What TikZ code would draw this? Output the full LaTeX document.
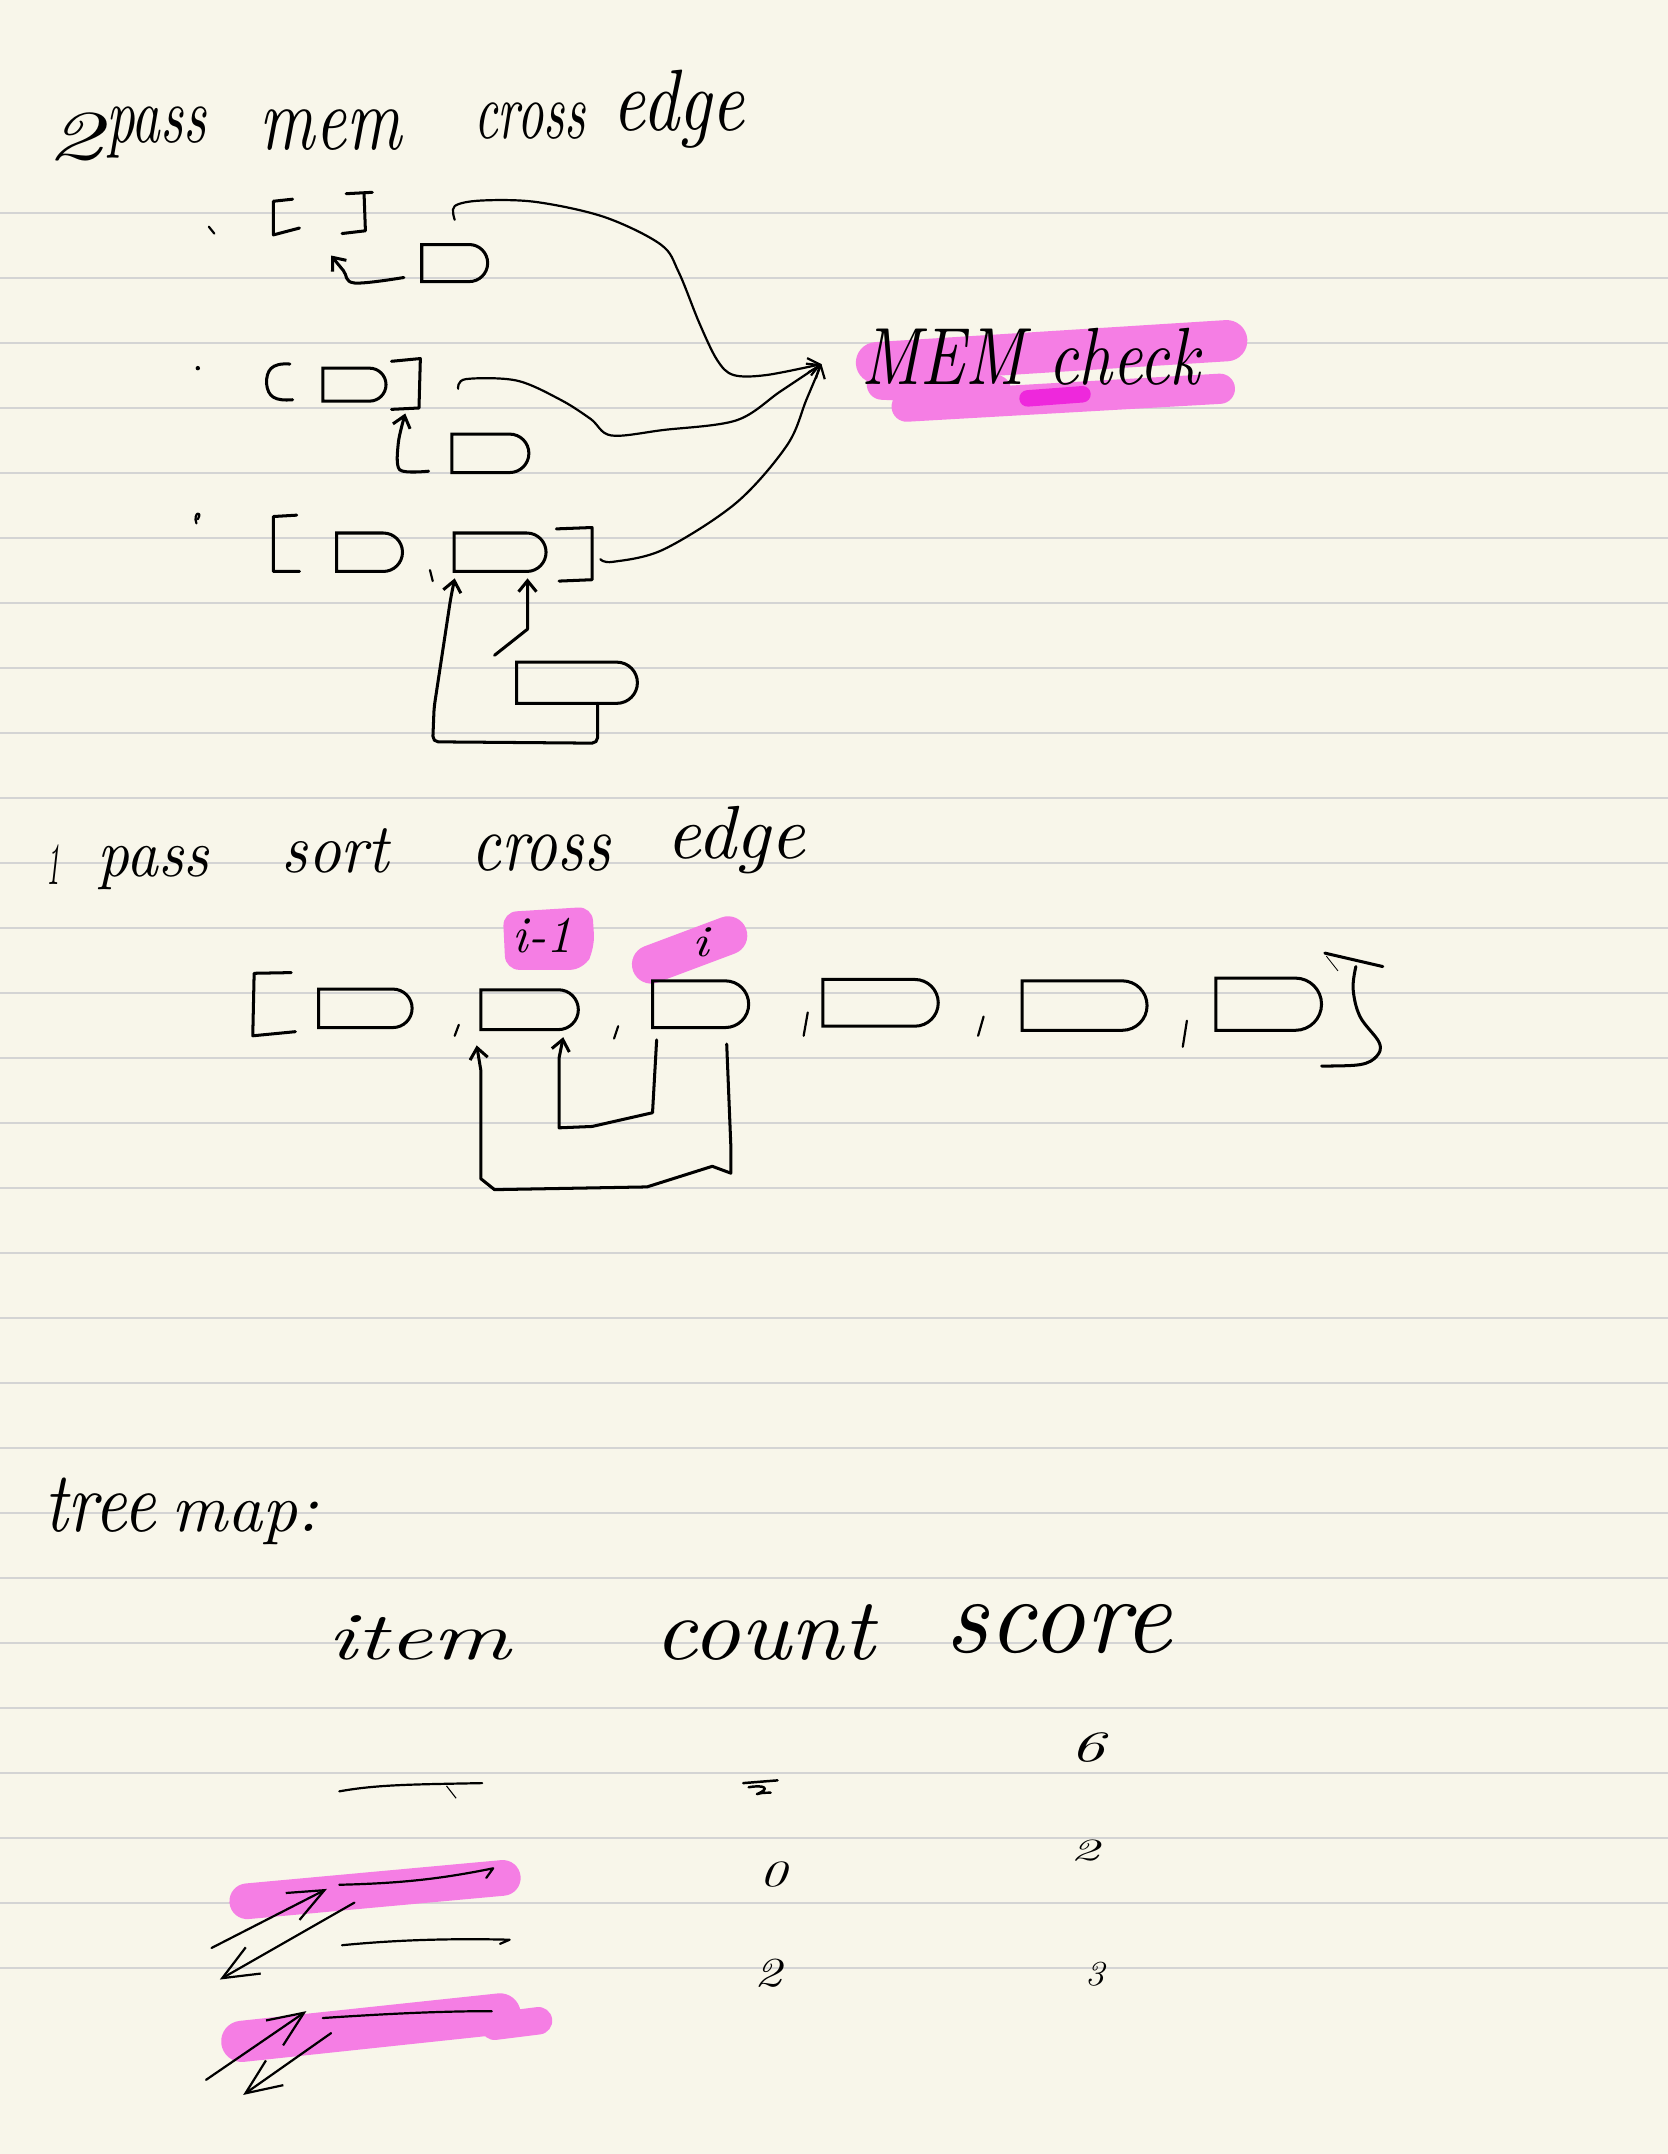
\documentclass[tikz,border=0pt]{standalone}
\usepackage{graphicx}
\usetikzlibrary{arrows.meta,shapes.misc,calc}
\definecolor{paper}{RGB}{248,246,234}
\definecolor{ruleline}{RGB}{212,212,212}
\definecolor{hl}{RGB}{245,126,228}
\definecolor{hldark}{RGB}{238,40,220}
\newcommand{\hw}[3]{\resizebox{#1pt}{#2pt}{\itshape #3}}
\tikzset{
  ink/.style={draw=black, line width=2.2pt, line cap=round, line join=round},
  thinink/.style={ink, line width=1.6pt},
  dbox/.style={rounded rectangle, rounded rectangle left arc=none, draw=black, line width=2.2pt, inner sep=0pt},
  txt/.style={anchor=base west, inner sep=0pt},
  barb/.style={-{Straight Barb[length=8pt,width=13pt]}},
  longbarb/.style={-{Straight Barb[length=26pt,width=22pt]}},
  hlstroke/.style={draw=hl, line cap=round, line join=round},
  rulestyle/.style={draw=ruleline, line width=1.4pt}
}
\begin{document}
\begin{tikzpicture}[x=1pt,y=-1pt]
\fill[paper] (0,0) rectangle (1214,1568);
\useasboundingbox (0,0) rectangle (1214,1568);
\foreach \k in {0,...,27} \draw[rulestyle] (0,{155+47.33*\k}) -- (1214,{155+47.33*\k});

% ---------- highlights ----------
\draw[hlstroke, line width=30pt] (638,264) -- (893,248);
\draw[hlstroke, line width=22pt] (660,296) -- (888,283);
\draw[hlstroke, line width=22pt] (642,280) -- (725,284);
\draw[draw=hldark, line width=12pt, line cap=round] (748,290) -- (788,287);
\fill[hl, rounded corners=10pt] (366,664) -- (431,660) -- (433,690) -- (425,706) -- (368,706) -- cycle;
\draw[hlstroke, line width=28pt] (474,702) -- (530,681);
\draw[hlstroke, line width=26pt] (180,1384) -- (366,1367);
\draw[hlstroke, line width=30pt] (176,1486) -- (364,1466);
\draw[hlstroke, line width=20pt] (360,1475) -- (392,1471);

% ---------- section 1 ----------
\node[txt] (t2) at (33.5,116) {\hw{41}{34}{2}};
\node[txt] (tpass) at (77,104) {\hw{73}{26}{pass}};
\node[txt] (tmem) at (189,109) {\hw{103}{29}{mem}};
\node[txt] (tcross) at (345,101) {\hw{81}{26}{cross}};
\node[txt] (tedge) at (446,95) {\hw{96}{44}{edge}};

\node[txt] (mem) at (627,280) {\hw{246}{41}{MEM check}};
\coordinate (memin) at (598,265);

% bullets
\draw[thinink] (152,165) -- (156,170);
\fill (144,268) circle (1.6);
\draw[thinink] (143,381) .. controls (140,373) and (148,371) .. (144,378);

% row 1
\draw[ink] (213,145) -- (199,146.5) -- (199,171) -- (218,166);
\draw[ink] (252,141) -- (271,140);
\draw[ink] (265,140.5) -- (266,168) -- (249,170);
\node[dbox, minimum width=48pt, minimum height=27pt] (r1b) at (331,191.5) {};
\coordinate (h1s) at (294,202);
\coordinate (h1t) at (241,186);
\draw[ink, barb] plot[smooth, tension=0.6] coordinates {(h1s) (258,206) (250,197) (h1t)};
\coordinate (c1s) at (331,160);
\draw[thinink, barb] plot[smooth, tension=0.55] coordinates {(c1s) (331,150) (350,146) (390,147) (440,158) (481,178) (494,198) (509,235) (522,262) (534,273) (558,273) (memin)};

% row 2
\draw[ink] (211,265) .. controls (197,264) and (194,270) .. (194,279) .. controls (195,289) and (200,292) .. (213,291);
\node[dbox, minimum width=46pt, minimum height=24pt] (r2a) at (258,280) {};
\draw[ink] (285,263) -- (306,261) -- (305,297) -- (285,298);
\node[dbox, minimum width=56pt, minimum height=28pt] (r2b) at (357,330) {};
\coordinate (u2s) at (312,343);
\coordinate (u2t) at (295,301);
\draw[ink, barb] plot[smooth, tension=0.5] coordinates {(u2s) (291,342) (290,322) (u2t)};
\coordinate (c2s) at (333.5,283);
\draw[thinink, barb] plot[smooth, tension=0.55] coordinates {(c2s) (339,276) (376,277) (408,291) (430,305) (445,317) (483,313) (536,306) (568,285) (memin)};

% row 3
\draw[ink] (216,375) -- (199,376) -- (199,416) -- (218,416);
\node[dbox, minimum width=48pt, minimum height=28pt] (r3a) at (269,402) {};
\draw[thinink] (313,415) -- (315,423);
\node[dbox, minimum width=67pt, minimum height=28pt] (r3b) at (364,402) {};
\draw[ink] (405,385) -- (431,384) -- (431,422) -- (407,423);
\coordinate (c3s) at (437,407);
\draw[thinink, barb] plot[smooth, tension=0.55] coordinates {(c3s) (446,409) (483,400) (536,366) (573,324) (587,291) (memin)};
\node[dbox, minimum width=88pt, minimum height=30pt] (r3c) at (420,497) {};
\coordinate (lp0) at (435,512);
\coordinate (lp1) at (331,421);
\draw[ink, barb, rounded corners=4pt] (lp0) -- (435,541) -- (315,540) -- (316,515) -- (328,436) -- (lp1);
\coordinate (lq0) at (360,477);
\coordinate (lq1) at (384,421);
\draw[ink, barb] (lq0) -- (384,458) -- (lq1);

% ---------- section 2 ----------
\node[txt] (s1) at (34,644) {\hw{10}{29}{1}};
\node[txt] (spass) at (71,638) {\hw{81}{22}{pass}};
\node[txt] (ssort) at (205,635) {\hw{78}{32}{sort}};
\node[txt] (scross) at (343,634) {\hw{101}{26}{cross}};
\node[txt] (sedge) at (485,625) {\hw{101}{38}{edge}};
\node[txt] (lim1) at (373,693) {\hw{43}{25}{i-1}};
\node[txt] (li) at (504,696) {\hw{12}{21}{i}};

\draw[ink] (212,708) -- (185,708.5) -- (184,754) -- (215,751);
\node[dbox, minimum width=68pt, minimum height=28pt] (d1) at (266,734) {};
\draw[thinink] (334,746) -- (331,754);
\node[dbox, minimum width=71pt, minimum height=29pt] (d2) at (385.5,735) {};
\draw[thinink] (450,747) -- (447,756);
\node[dbox, minimum width=70pt, minimum height=34pt] (d3) at (510,731) {};
\draw[thinink] (588,737) -- (585,754);
\node[dbox, minimum width=84pt, minimum height=34pt] (d4) at (641,730) {};
\draw[thinink] (716,740) -- (712,754);
\node[dbox, minimum width=91pt, minimum height=36pt] (d5) at (789.5,732) {};
\draw[thinink] (864,743) -- (861,762);
\node[dbox, minimum width=77pt, minimum height=38pt] (d6) at (923.5,731) {};
\draw[ink] (964.4,693.8) -- (1006.6,703.6);
\draw[ink] plot[smooth, tension=0.6] coordinates {(987,703.6) (985,720) (990,740) (1004,759) (1002,769) (990,775) (962,776)};
\draw[line width=0.6pt] (965.5,696) -- (974,706.8);

\coordinate (la0) at (529,760);
\coordinate (la1) at (347,761);
\draw[ink, barb] (la0) -- (532,834) -- (532,854) -- (518.5,849) -- (471,864) -- (360,866) -- (350,858) -- (350,779) -- (la1);
\coordinate (lb0) at (478,757);
\coordinate (lb1) at (410,755);
\draw[ink, barb] (lb0) -- (475,810) -- (431,820) -- (407,821) -- (407,770) -- (lb1);

% ---------- section 3 ----------
\node[txt] (ttree) at (32,1115) {\hw{81}{39}{tree}};
\node[txt] (tmap) at (125,1115) {\hw{107}{22}{map:}};
\node[txt] (hitem) at (238,1208) {\hw{133}{32}{item}};
\node[txt] (hcount) at (476,1208) {\hw{160}{40}{count}};
\node[txt] (hscore) at (688,1203) {\hw{165}{35}{score}};

\node[txt] (sc1) at (779,1282) {\hw{25}{21}{6}};
\node[txt] (sc2) at (779,1354) {\hw{21}{15}{2}};
\node[txt] (sc3) at (790,1445) {\hw{14}{17}{3}};
\node[txt] (ct2) at (553,1373) {\hw{20}{18}{0}};
\node[txt] (ct3) at (549,1446) {\hw{20}{20}{2}};
\draw[ink, line width=1.8pt] (541,1298) -- (566,1296);
\draw[ink, line width=1.8pt] (545,1301) .. controls (557,1299) and (561,1302) .. (551,1306) .. controls (555,1305) .. (561,1305);

\coordinate (l1s) at (247,1304);
\coordinate (l1e) at (351,1298);
\draw[thinink] (l1s) .. controls (275,1299) and (300,1299) .. (l1e);
\draw[line width=0.8pt] (325,1300) -- (332,1309);

\coordinate (l2s) at (247,1372);
\coordinate (l2e) at (359,1360);
\draw[thinink] (l2s) .. controls (290,1371) and (320,1368) .. (l2e) -- (354,1367);
\coordinate (a1t) at (154,1418);
\draw[thinink, longbarb] (a1t) -- (238,1375);
\coordinate (a2t) at (160,1441);
\draw[thinink, longbarb] (258,1385) -- (a2t);

\coordinate (l3s) at (249,1416);
\coordinate (l3e) at (371,1412);
\draw[thinink] (l3s) .. controls (290,1412) and (330,1411) .. (l3e) -- (364,1415);

\coordinate (l4s) at (235,1469);
\coordinate (l4e) at (358,1464);
\draw[thinink] (l4s) .. controls (280,1466) and (320,1464) .. (l4e);
\coordinate (a3t) at (150,1514);
\draw[thinink, longbarb] (a3t) -- (223,1464);
\coordinate (a4t) at (177,1525);
\draw[thinink, longbarb] (241,1480) -- (a4t);
\end{tikzpicture}
\end{document}
